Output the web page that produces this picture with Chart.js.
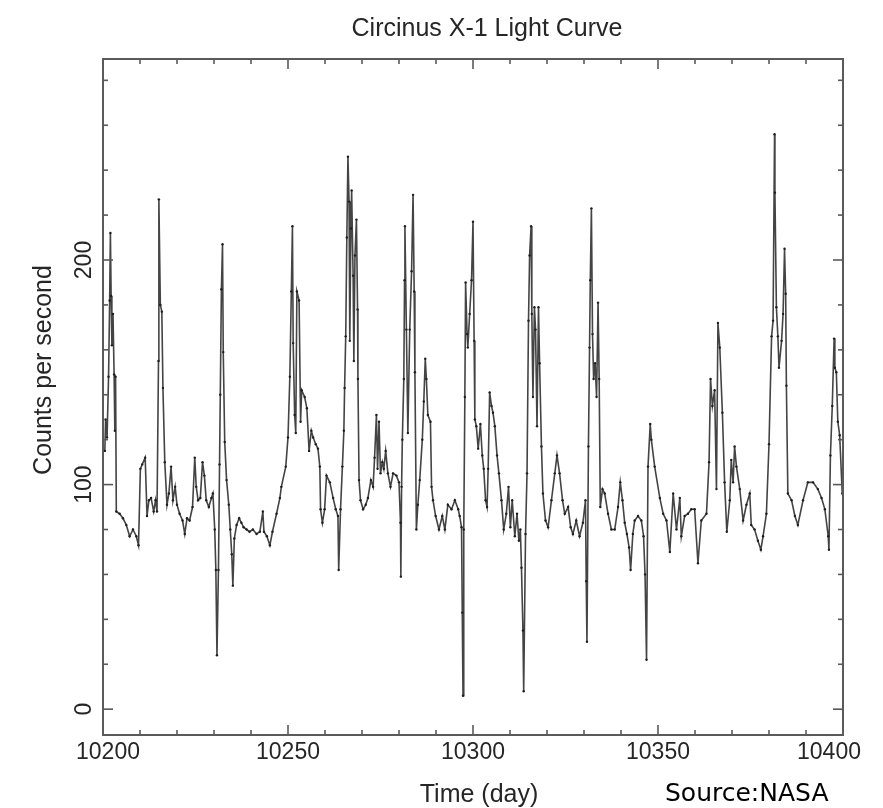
<!DOCTYPE html>
<html>
<head>
<meta charset="utf-8">
<script src="https://cdn.jsdelivr.net/npm/chart.js@4.4.1/dist/chart.umd.min.js"></script>
<style>
  html, body { margin: 0; padding: 0; background: #ffffff; }
  canvas { display: block; }
</style>
</head>
<body>
<canvas id="c" width="883" height="808"></canvas>
<script>
// ---- data ----
const titleText = "Circinus X-1 Light Curve";
const xTitle = "Time (day)";
const yTitle = "Counts per second";
const sourceText = "Source:NASA";

const xTickLabels = [10200, 10250, 10300, 10350, 10400];
const yTickLabels = [0, 100, 200];
const xMinorStep = 10;
const yMinorStep = 20;
const xRange = [10200, 10400];
const yRange = [-11.5, 289.5];

const days = [
10200.5,10200.7,10201.1,10201.5,10201.8,10202.0,10202.2,10202.4,10202.7,10203.0,10203.2,10203.4,10203.6,
10204.5,10205.4,10206.3,10207.2,10208.1,10209.0,10209.6,10210.1,10210.6,10211.4,10211.9,10212.4,10213.0,
10213.7,10214.2,10214.6,10215.0,10215.1,10215.5,10215.9,10216.2,10216.7,10217.3,10217.8,10218.4,10218.9,
10219.5,10220.0,10220.7,10221.5,10222.1,10222.7,10223.4,10224.2,10224.8,10225.2,10225.7,10226.3,10226.9,
10227.4,10227.9,10228.6,10229.3,10229.7,10230.2,10230.5,10230.8,10231.2,10231.5,10231.7,10232.0,10232.3,
10232.5,10232.9,10233.4,10234.0,10234.4,10234.8,10235.1,10235.5,10236.1,10236.8,10237.4,10238.0,10238.8,
10239.6,10240.5,10241.5,10242.4,10243.2,10243.5,10244.3,10245.1,10245.8,10246.9,10247.8,
10248.2,10249.4,10250.0,10250.5,10250.9,10251.2,10251.4,10251.8,10252.1,10252.4,10253.0,10253.4,10253.7,
10254.5,10255.1,10255.7,10256.3,10256.8,10257.5,10258.1,10258.6,10258.8,10259.3,10259.9,10260.4,10261.3,
10262.2,10262.9,10263.5,10263.7,10264.2,10264.7,10265.1,10265.3,10265.6,10265.9,10266.2,10266.5,10266.7,
10267.0,10267.2,10267.6,10267.8,10268.1,10268.5,10268.8,10268.9,10269.2,10269.6,10270.3,10271.0,10271.6,
10272.4,10273.0,10273.4,10273.9,10274.2,10274.6,10275.0,10275.5,10275.9,10276.4,10277.0,10277.7,10278.4,
10279.3,10280.0,10280.4,10280.5,10280.7,10280.9,10281.3,10281.5,10281.6,10282.0,10282.4,10282.9,10283.4,
10283.8,10284.1,10284.3,10284.7,10285.1,10285.6,10286.3,10286.7,10287.1,10287.4,10287.8,10288.5,10288.8,
10289.2,10289.9,10290.8,10291.7,10292.4,10293.2,10294.2,10295.1,10296.0,
10296.4,10296.9,10297.1,10297.3,10297.5,10297.8,10298.0,10298.4,10298.6,10299.1,10299.6,10300.0,10300.3,
10300.5,10300.9,10301.4,10302.0,10302.5,10302.9,10303.4,10303.8,10304.1,10304.5,10305.0,10305.4,10305.9,
10306.5,10307.0,10307.7,10308.3,10309.0,10309.6,10310.1,10310.6,10311.3,10311.9,10312.4,10312.8,10313.1,
10313.5,10313.7,10314.2,10314.6,10315.0,10315.3,10315.7,10315.9,10316.2,10316.6,10316.9,10317.3,10317.7,
10318.0,10318.5,10318.9,10319.6,10320.3,10321.2,10322.1,10322.7,10323.4,10324.2,10324.8,10325.7,10326.4,
10327.0,10327.9,10328.8,10329.7,10330.4,10330.6,10330.8,10331.2,10331.5,10331.7,10332.0,10332.3,10332.6,
10333.0,10333.4,10333.8,10334.1,10334.4,10335.0,10335.6,10336.5,10337.4,10338.3,10339.2,10339.8,10340.4,
10341.0,10341.6,10342.2,10342.6,10343.2,10343.7,10344.6,10345.5,10346.1,10346.5,10346.9,10347.3,10347.9,
10348.2,10349.1,10350.5,10351.4,10352.3,10353.2,10354.1,10355.0,10355.9,10356.3,10357.2,10358.1,10359.0,
10359.9,10360.8,10361.7,10363.1,10363.8,10364.2,10364.7,10365.3,10365.8,10366.2,10366.7,10367.4,10368.0,
10368.6,10369.4,10369.8,10370.3,10370.7,10371.2,10372.1,10373.0,10373.9,10374.8,10375.2,10376.1,10377.0,
10377.8,10378.4,10379.3,10380.0,10380.7,10381.1,10381.5,10381.6,10382.0,10382.4,10382.7,10383.4,10383.8,
10384.2,10384.5,10384.7,10385.1,10386.1,10387.0,10387.8,10389.2,10390.5,10391.9,10393.2,10394.2,10395.1,
10396.0,10396.2,10396.6,10397.1,10397.6,10397.8,10398.2,10398.6,10399.1,10399.8
];

const counts = [
115,129,121,148,182,212,184,162,176,149,124,148,88,
87,85,82,77,80,77,73,107,109,112,86,93,94,
88,93,88,155,227,180,177,143,110,91,96,108,93,
99,91,87,84,78,85,84,90,112,99,93,94,110,
104,93,90,94,96,80,62,24,62,109,140,187,207,
159,119,102,91,80,69,55,76,82,85,83,81,80,
79,80,78,79,88,79,77,73,79,87,94,
99,108,121,148,186,215,163,131,123,186,182,128,142,
139,134,115,124,121,118,116,108,89,83,89,104,101,
94,89,86,62,89,108,124,143,166,210,246,226,164,
214,231,193,155,202,218,178,147,102,93,89,91,94,
102,99,112,131,107,128,105,110,107,115,105,99,105,
104,101,83,59,99,120,147,191,215,169,123,169,195,
229,186,150,80,91,102,120,137,156,147,131,128,99,
93,86,80,86,80,91,89,93,89,
86,81,43,6,80,139,190,167,161,176,191,217,164,
129,126,116,127,113,107,93,90,107,141,135,132,126,
113,105,93,80,87,99,81,93,77,87,75,80,63,
35,8,78,105,173,202,215,176,139,179,169,126,179,
154,117,96,84,81,93,105,113,105,93,87,90,81,
78,84,77,83,93,57,30,117,161,191,223,167,147,
154,139,181,147,90,98,96,87,80,80,90,101,93,
83,78,72,62,78,84,86,84,77,60,22,108,127,
120,108,94,87,84,70,96,80,94,77,86,87,89,
89,65,84,87,110,147,135,142,98,172,161,132,101,
79,93,111,101,117,108,98,84,91,96,82,80,75,
71,77,87,118,166,173,256,230,179,166,152,164,176,
205,185,144,96,93,86,82,93,101,101,98,94,89,
77,71,113,135,165,152,150,128,122,96
];

const points = days.map((d, i) => ({ x: d, y: counts[i] }));

// ---- decorations drawn through the chart scales ----
const framePlugin = {
  id: 'frame',
  afterDatasetsDraw(chart) {
    const { ctx, chartArea: a, scales } = chart;
    const xs = scales.x, ys = scales.y;
    ctx.save();
    ctx.strokeStyle = '#5a5a5a';
    ctx.lineWidth = 1.6;
    const seg = (x1, y1, x2, y2) => { ctx.beginPath(); ctx.moveTo(x1, y1); ctx.lineTo(x2, y2); ctx.stroke(); };
    for (let v = xRange[0]; v <= xRange[1]; v += xMinorStep) {
      const px = xs.getPixelForValue(v);
      const L = xTickLabels.includes(v) ? 10 : 5;
      seg(px, a.bottom, px, a.bottom - L);
      seg(px, a.top, px, a.top + L);
    }
    for (let v = 0; v <= yRange[1]; v += yMinorStep) {
      const py = ys.getPixelForValue(v);
      const L = yTickLabels.includes(v) ? 10 : 5;
      seg(a.left, py, a.left + L, py);
      seg(a.right, py, a.right - L, py);
    }
    ctx.lineWidth = 2;
    ctx.strokeRect(a.left, a.top, a.right - a.left, a.bottom - a.top);

    ctx.fillStyle = '#262626';
    ctx.font = '23px "Liberation Sans", Arial, sans-serif';
    ctx.textAlign = 'center';
    ctx.textBaseline = 'middle';
    const last = xTickLabels.length - 1;
    xTickLabels.forEach((v, i) => {
      const shift = i === 0 ? 5 : (i === last ? -14 : 0);
      ctx.fillText(String(v), xs.getPixelForValue(v) + shift, a.bottom + 18);
    });
    yTickLabels.forEach(v => {
      ctx.save();
      ctx.translate(a.left - 18, ys.getPixelForValue(v));
      ctx.rotate(-Math.PI / 2);
      ctx.fillText(String(v), 0, 0);
      ctx.restore();
    });

    ctx.font = '25px "Liberation Sans", Arial, sans-serif';
    ctx.fillText(titleText, 487, 29);
    ctx.fillText(xTitle, 479, 795);
    ctx.save();
    ctx.translate(44, 370);
    ctx.rotate(-Math.PI / 2);
    ctx.fillText(yTitle, 0, 0);
    ctx.restore();

    ctx.fillStyle = '#000000';
    ctx.font = '25px "DejaVu Sans", sans-serif';
    ctx.textAlign = 'left';
    ctx.fillText(sourceText, 665, 794);
    ctx.restore();
  }
};

new Chart(document.getElementById('c'), {
  type: 'line',
  data: {
    datasets: [{
      data: points,
      borderColor: '#444444',
      borderWidth: 1.6,
      pointRadius: 1.2,
      pointBackgroundColor: '#1e1e1e',
      pointBorderWidth: 0,
      tension: 0,
      fill: false
    }]
  },
  options: {
    responsive: false,
    animation: false,
    events: [],
    layout: { padding: { left: 103, right: 40, top: 59, bottom: 73 } },
    plugins: { legend: { display: false }, tooltip: { enabled: false }, title: { display: false } },
    scales: {
      x: { type: 'linear', min: xRange[0], max: xRange[1], display: false },
      y: { type: 'linear', min: yRange[0], max: yRange[1], display: false }
    }
  },
  plugins: [framePlugin]
});
</script>
</body>
</html>
